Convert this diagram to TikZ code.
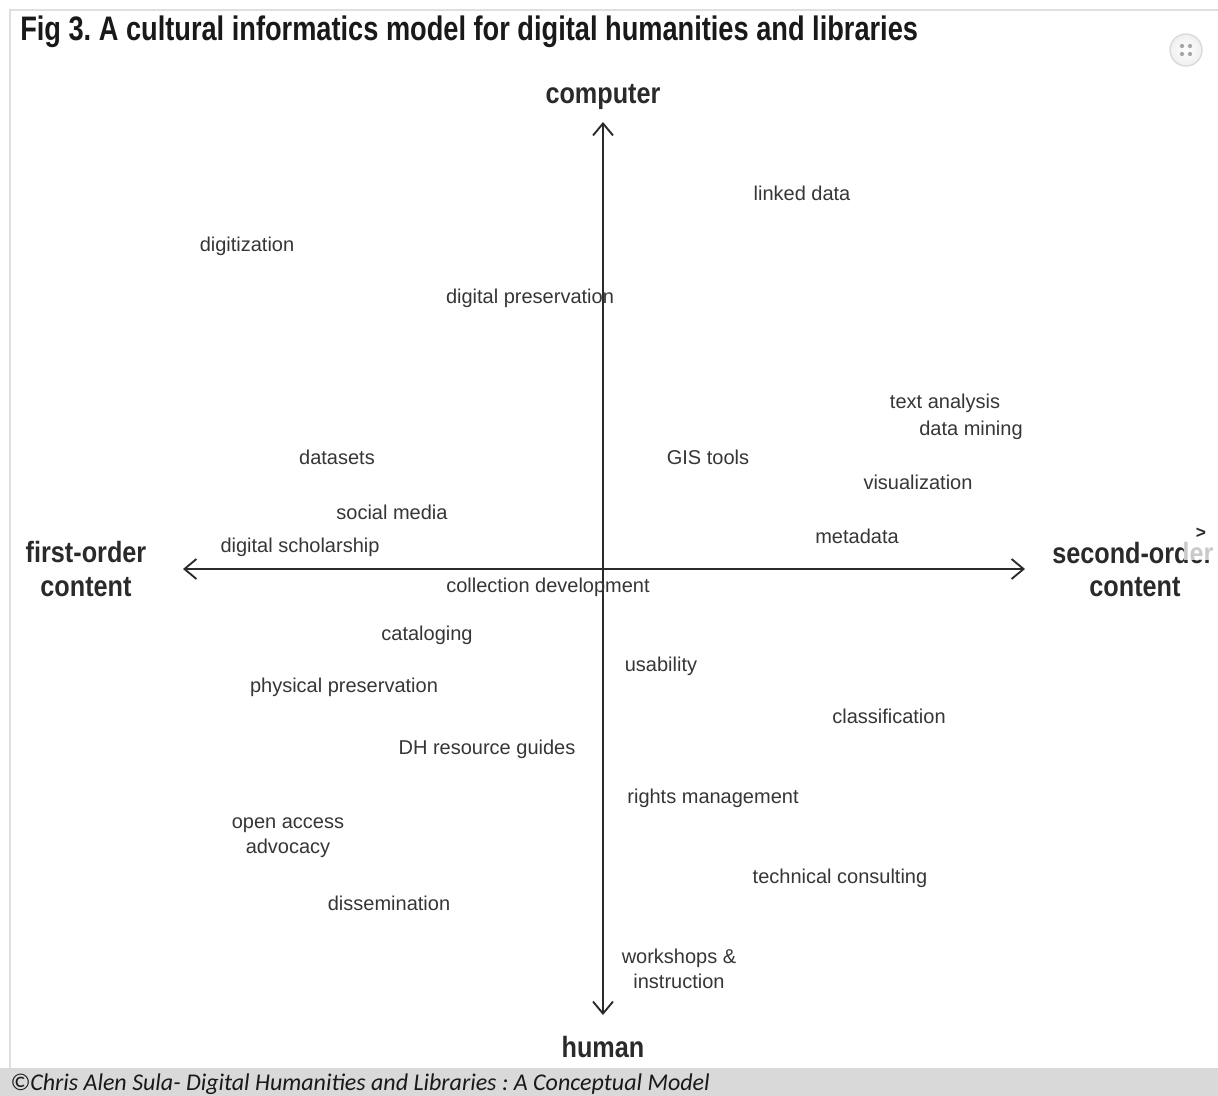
\documentclass[tikz,border=0pt]{standalone}
\usepackage{fontspec}
\setmainfont{Liberation Sans}
\newfontfamily\condfont{Liberation Sans}[FakeStretch=0.8]
\newfontfamily\axisfont{Liberation Sans}[FakeStretch=0.86]
\newfontfamily\capfont{Carlito}
\usetikzlibrary{arrows.meta,calc}
\definecolor{labelgray}{HTML}{363636}
\definecolor{axisgray}{HTML}{2A2A2A}
\definecolor{bargray}{HTML}{D9D9D9}
\frenchspacing
\begin{document}
\begin{tikzpicture}[x=0.75pt,y=-0.75pt,
  term/.style={text=labelgray,font=\fontsize{15}{17}\selectfont,inner sep=0pt,align=center},
  axislabel/.style={text=axisgray,font=\axisfont\bfseries\fontsize{22}{25}\selectfont,inner sep=0pt,align=center},
  axisline/.style={line width=1.5pt,draw=axisgray,-{Straight Barb[length=9pt,width=15pt,line width=1.4pt]}}]
\useasboundingbox (0,0) rectangle (1218,1096);
\fill[white] (0,0) rectangle (1218,1096);
% frame of the panel
\draw[gray!25,line width=1pt] (10,1068) -- (10,10) -- (1218,10);
% caption bar
\fill[bargray] (0,1068) rectangle (1218,1096);
\node[anchor=base west,inner sep=0pt,text=black!90] (credit) at (10,1090)
  {\capfont\itshape\fontsize{18}{20}\selectfont ©Chris Alen Sula- Digital Humanities and Libraries : A Conceptual Model};
% title
\node[anchor=west,inner sep=0pt,text=black!90] (title) at (20,32)
  {\condfont\bfseries\fontsize{25.5}{28}\selectfont Fig 3. A cultural informatics model for digital humanities and libraries};
% expand icon
\node[circle,minimum size=24pt,inner sep=0pt,draw=gray!30,line width=1pt,
  inner color=white,outer color=gray!12] (expand) at (1186,50) {};
\foreach \dx/\dy in {-4/-4,4/-4,-4/4,4/4}
  \fill[gray!70] ($(expand.center)+(\dx,\dy)$) circle (1.6pt);
% axes
\coordinate (origin) at (603,569);
\coordinate (top) at (603,122);
\coordinate (bottom) at (603,1015);
\coordinate (left) at (183,569);
\coordinate (right) at (1025,569);
\draw[axisline] (origin) -- (top);
\draw[axisline] (origin) -- (bottom);
\draw[axisline] (origin) -- (left);
\draw[axisline] (origin) -- (right);
% axis labels
\node[axislabel] (computer) at (603,97) {computer};
\node[axislabel] (human) at (603,1047) {human};
\node[axislabel] (first) at (86,569) {first-order\\content};
\begin{scope}
  \clip (1040,500) rectangle (1218,620);
  \node[axislabel,anchor=north west] (second) at (1052,542) {second-order};
  \node[axislabel] (secondb) at (1135,587) {content};
\end{scope}
\fill[white,opacity=0.75] (1184,520) rectangle (1218,560);
\node[text=axisgray,font=\bfseries\fontsize{13}{13}\selectfont,inner sep=0pt] (next) at (1201,533) {>};
% terms
\node[term] (linked) at (802,193) {linked data};
\node[term] (digitization) at (247,246) {digitization};
\node[term] (dpres) at (530,298) {digital preservation};
\node[term] (textan) at (945,403) {text analysis};
\node[term] (mining) at (971,430) {data mining};
\node[term] (datasets) at (337,457) {datasets};
\node[term] (gis) at (708,457) {GIS tools};
\node[term] (vis) at (918,482) {visualization};
\node[term] (social) at (392,512) {social media};
\node[term] (metadata) at (857,536) {metadata};
\node[term] (dschol) at (300,547) {digital scholarship};
\node[term] (colldev) at (548,587) {collection development};
\node[term] (catalog) at (427,635) {cataloging};
\node[term] (usab) at (661,666) {usability};
\node[term] (ppres) at (344,687) {physical preservation};
\node[term] (classif) at (889,716) {classification};
\node[term] (dhguides) at (487,749) {DH resource guides};
\node[term] (rights) at (713,798) {rights management};
\node[term] (oaa) at (288,838) {open access\\[2pt]advocacy};
\node[term] (tech) at (840,878) {technical consulting};
\node[term] (dissem) at (389,903) {dissemination};
\node[term] (workshops) at (679,969) {workshops \&\\[2pt]instruction};
\end{tikzpicture}
\end{document}
